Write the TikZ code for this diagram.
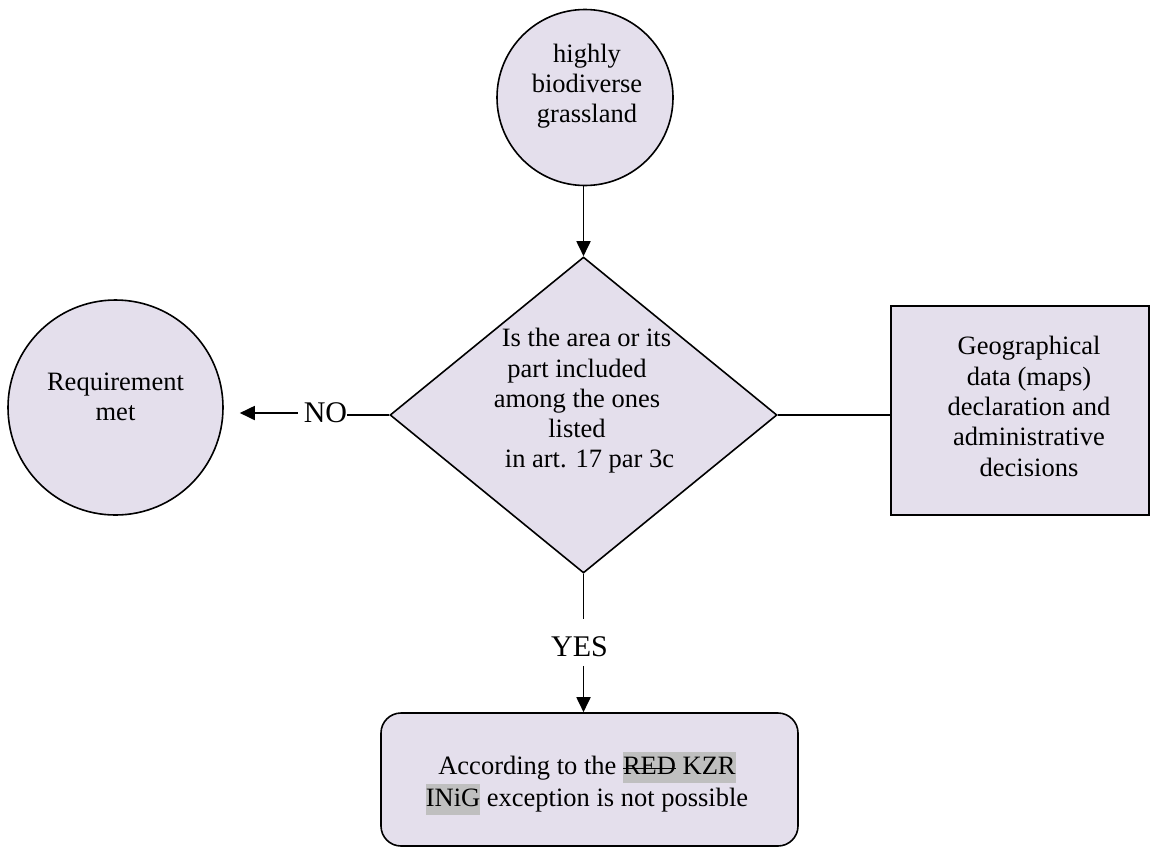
\documentclass[tikz,border=0pt]{standalone}
\usepackage{fontspec}
\setmainfont{Liberation Serif}
\usetikzlibrary{shapes.geometric,arrows.meta}
\definecolor{lila}{RGB}{228,223,236}
\definecolor{hlgray}{RGB}{191,191,191}
\newsavebox{\strikebox}
\newcommand{\hilite}[1]{{\setlength{\fboxsep}{0pt}\colorbox{hlgray}{\rule[-8pt]{0pt}{31pt}#1}}}
\newcommand{\struck}[1]{\sbox{\strikebox}{#1}\rlap{\rule[0.2em]{\wd\strikebox}{1.5pt}}\usebox{\strikebox}}

\begin{document}
\begin{tikzpicture}[x=1pt,y=-1pt,
    shapeline/.style={draw=black,line width=1.6pt,fill=lila},
    bubble/.style={shapeline,circle,inner sep=0pt},
    txt/.style={align=center,font=\fontsize{26.5}{30.3}\selectfont,inner sep=0pt},
    answer/.style={font=\fontsize{30}{36}\selectfont,inner sep=0pt},
    arr/.style={line width=1.8pt,-{Triangle[length=15pt,width=14pt]}},
    link/.style={line width=1.8pt}]
    \useasboundingbox (0,0) rectangle (1151,847);

    % Formas
    \node[bubble,minimum size=176pt] (src) at (585,97.5) {};
    \node[bubble,minimum size=215pt] (req) at (115.5,407.5) {};
    \node[shapeline,diamond,inner sep=0pt,minimum width=387pt,minimum height=316pt] (dec) at (583.5,415) {};
    \node[shapeline,rectangle,minimum width=258pt,minimum height=209pt] (geo) at (1020,410.5) {};
    \node[shapeline,rectangle,rounded corners=20pt,minimum width=417pt,minimum height=133pt] (out) at (589.5,779.5) {};

    % Textos
    \node[txt] (srctxt) at (587,86) {highly\\biodiverse\\grassland};
    \node[txt] (reqtxt) at (115.5,397) {Requirement\\met};
    \node[txt] (dectxt) at (577,401) {\hspace*{19pt}Is the area or its\\part included\\among the ones\\listed\\\hspace*{25pt}in art. 17 par 3c};
    \node[txt] (geotxt) at (1029,406.5) {Geographical\\data (maps)\\declaration and\\administrative\\decisions};
    \node[txt,font=\fontsize{26.5}{32}\selectfont] (outtxt) at (587,783) {According to the \hilite{\struck{RED} KZR}\\\hilite{INiG} exception is not possible};

    % Respuestas
    \node[answer] (no) at (325.5,413) {NO};
    \node[answer] (yes) at (579.5,646.5) {YES};

    % Conectores
    \draw[arr] (dec.north |- src.south) -- (dec.north);
    \draw[link] (dec.west) -- (dec.west -| no.east);
    \draw[arr,shorten <=6pt,shorten >=16pt] (no.west) -- (no.west -| req.east);
    \draw[link,shorten >=17pt] (dec.south) -- (dec.south |- yes.north);
    \draw[arr,shorten <=9pt] (dec.south |- yes.south) -- (dec.south |- out.north);
    \draw[link] (dec.east) -- (dec.east -| geo.west);
\end{tikzpicture}
\end{document}
